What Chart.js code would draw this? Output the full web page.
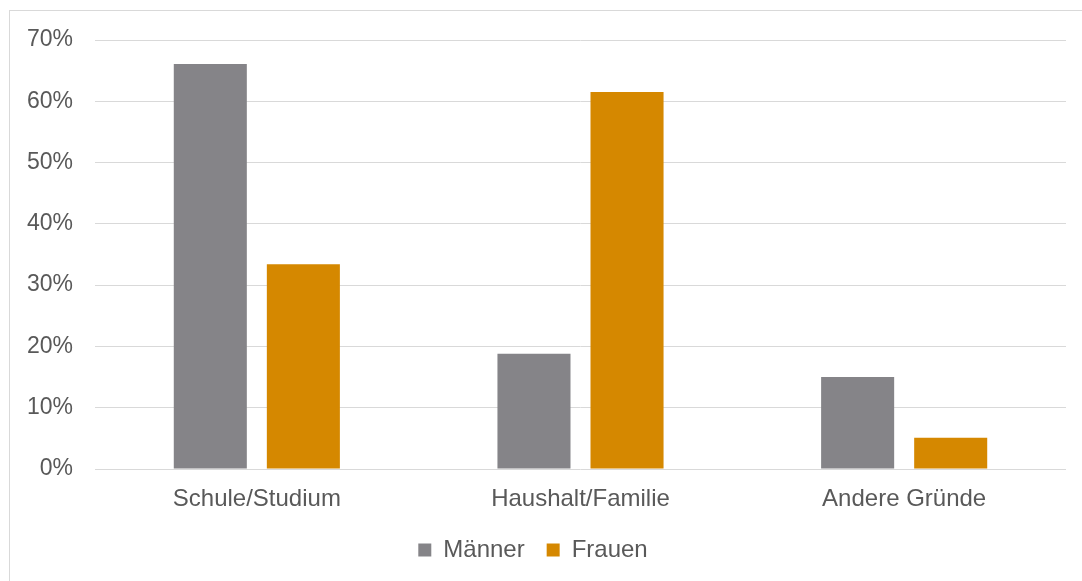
<!DOCTYPE html>
<html>
<head>
<meta charset="utf-8">
<script src="https://cdn.jsdelivr.net/npm/chart.js@4"></script>
<style>
  html, body { margin: 0; padding: 0; background: #fff; overflow: hidden; }
  #frame { position: absolute; left: 9px; top: 10px; width: 1100px; height: 600px; border: 1px solid #d9d9d9; }
  #wrap { position: absolute; left: 0; top: 0; width: 1082px; height: 581px; }
</style>
</head>
<body>
<div id="frame"></div>
<div id="wrap"><canvas id="chart" width="1082" height="581"></canvas></div>
<script>
const categories = ["Schule/Studium", "Haushalt/Familie", "Andere Gründe"];
const maenner = [66.1, 18.8, 15.0];
const frauen = [33.4, 61.5, 5.1];
const seriesNames = ["Männer", "Frauen"];

Chart.defaults.font.family = "'Liberation Sans', Arial, sans-serif";
Chart.defaults.color = '#595959';

var ctx = document.getElementById('chart').getContext('2d');
var chart = new Chart(ctx, {
    type: 'bar',
    data: {
        labels: categories,
        datasets: [
            {
                label: seriesNames[0],
                data: maenner,
                backgroundColor: '#858488',
                borderWidth: 0,
                categoryPercentage: 0.575,
                barPercentage: 0.785
            },
            {
                label: seriesNames[1],
                data: frauen,
                backgroundColor: '#d58800',
                borderWidth: 0,
                categoryPercentage: 0.575,
                barPercentage: 0.785
            }
        ]
    },
    options: {
        responsive: false,
        animation: false,
        layout: {
            padding: { left: 0, right: 16, top: 40, bottom: 9 }
        },
        plugins: {
            legend: {
                position: 'bottom',
                labels: {
                    boxWidth: 13,
                    boxHeight: 13,
                    padding: 22,
                    font: { size: 24 },
                    color: '#595959'
                }
            },
            tooltip: { enabled: false }
        },
        scales: {
            x: {
                afterFit: (scale) => { scale.height = 47; },
                grid: { display: false },
                border: { display: false },
                ticks: { font: { size: 24 }, padding: 8, color: '#595959' }
            },
            y: {
                min: 0,
                max: 70,
                afterFit: (scale) => { scale.width = 95; },
                grid: { color: '#d9d9d9', lineWidth: 1, drawTicks: false },
                border: { display: false },
                ticks: {
                    stepSize: 10,
                    padding: 22,
                    font: { size: 23 },
                    color: '#595959',
                    callback: (v) => v + '%'
                }
            }
        }
    }
});
</script>
</body>
</html>
